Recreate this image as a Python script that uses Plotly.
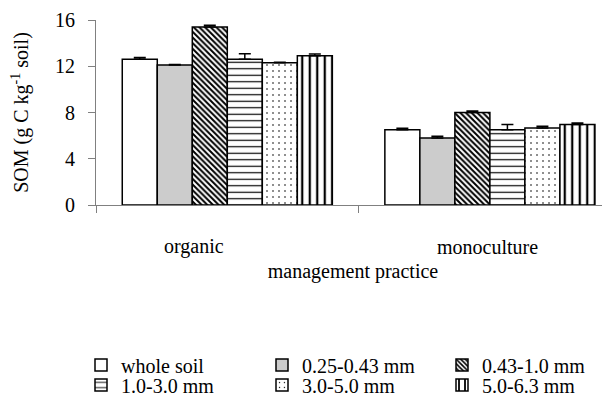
import plotly.graph_objects as go

categories = ["organic", "monoculture"]
series_names = ["whole soil", "0.25-0.43 mm", "0.43-1.0 mm", "1.0-3.0 mm", "3.0-5.0 mm", "5.0-6.3 mm"]
whole_soil = [12.6, 6.5]
f_025_043 = [12.1, 5.8]
f_043_10 = [15.4, 8.0]
f_10_30 = [12.6, 6.5]
f_30_50 = [12.3, 6.65]
f_50_63 = [12.9, 6.97]
err_whole_soil = [0.15, 0.14]
err_025_043 = [0.05, 0.15]
err_043_10 = [0.14, 0.13]
err_10_30 = [0.48, 0.46]
err_30_50 = [0.05, 0.15]
err_50_63 = [0.15, 0.12]
y_ticks = [0, 4, 8, 12, 16]

values = [whole_soil, f_025_043, f_043_10, f_10_30, f_30_50, f_50_63]
errors = [err_whole_soil, err_025_043, err_043_10, err_10_30, err_30_50, err_50_63]

styles = [
    dict(color="white", pattern=dict(shape="")),
    dict(color="#cccccc", pattern=dict(shape="")),
    dict(color="white", pattern=dict(shape="\\", fgcolor="black", bgcolor="white", size=4, solidity=0.5, fillmode="replace")),
    dict(color="white", pattern=dict(shape="-", fgcolor="black", bgcolor="white", size=6.5, solidity=0.18, fillmode="replace")),
    dict(color="white", pattern=dict(shape=".", fgcolor="black", bgcolor="white", size=6, solidity=0.06, fillmode="replace")),
    dict(color="white", pattern=dict(shape="|", fgcolor="black", bgcolor="white", size=7.5, solidity=0.3, fillmode="replace")),
]

FONT = "Liberation Serif, Times New Roman, serif"

# page body has an 8 px margin; work in window pixels and offset
OFF = 8
W, H = 610 - OFF, 401 - OFF
PL, PT, PW, PH = 96 - OFF, 20 - OFF, 514, 185


def px_to_paper_x(px):
    return (px - OFF - PL) / PW


def px_to_paper_y(py):
    return (PT + PH - (py - OFF)) / PH


legend_keys = ["legend", "legend2", "legend3", "legend4", "legend5", "legend6"]
text_starts = [126, 307, 487]
row_centers = [365, 385]

fig = go.Figure()
for i, (name, vals, errs, st) in enumerate(zip(series_names, values, errors, styles)):
    fig.add_trace(go.Bar(
        x=categories, y=vals, name=name,
        marker=dict(color=st["color"], pattern=st["pattern"], line=dict(color="black", width=1.5)),
        error_y=dict(type="data", array=errs, arrayminus=[0] * len(errs), symmetric=False,
                     color="black", thickness=1.5, width=6),
        legend=legend_keys[i],
    ))

layout_legends = {}
for i, key in enumerate(legend_keys):
    col, row = i % 3, i // 3
    layout_legends[key] = dict(
        orientation="v", xref="paper", yref="paper",
        x=px_to_paper_x(text_starts[col] - 45), y=px_to_paper_y(row_centers[row]),
        xanchor="left", yanchor="middle", itemwidth=30,
        font=dict(size=20, family=FONT), bgcolor="rgba(0,0,0,0)",
    )

fig.update_layout(
    width=W, height=H,
    margin=dict(l=PL, r=W - PL - PW, t=PT, b=H - PT - PH, autoexpand=False),
    paper_bgcolor="white", plot_bgcolor="white",
    font=dict(family=FONT, size=20, color="black"),
    barmode="group", bargap=0.2, bargroupgap=0,
    showlegend=True,
    **layout_legends,
)

fig.update_xaxes(
    type="category", range=[-0.5, -0.5 + PW / 262.6], automargin=False,
    showline=True, linecolor="#808080", linewidth=1,
    ticks="outside", tickson="boundaries", ticklen=7, tickcolor="#808080",
    showticklabels=False, showgrid=False, zeroline=False,
    title=dict(text="management practice", font=dict(size=20), standoff=58),
)
fig.update_yaxes(
    range=[0, 16], tickvals=y_ticks, automargin=False,
    showline=True, linecolor="#808080", linewidth=1,
    ticks="outside", ticklen=7, tickcolor="#808080",
    ticklabelstandoff=9,
    showgrid=False, zeroline=False,
    tickfont=dict(size=20),
    title=dict(text="SOM (g C kg<sup>-1</sup> soil)", font=dict(size=20), standoff=21),
)

label_pos = [-0.126, 0.992]
for c, xp in zip(categories, label_pos):
    fig.add_annotation(text=c, x=xp, xref="x", y=px_to_paper_y(247), yref="paper",
                       yanchor="middle", showarrow=False, font=dict(size=20, family=FONT))

fig.write_html("out.html")
